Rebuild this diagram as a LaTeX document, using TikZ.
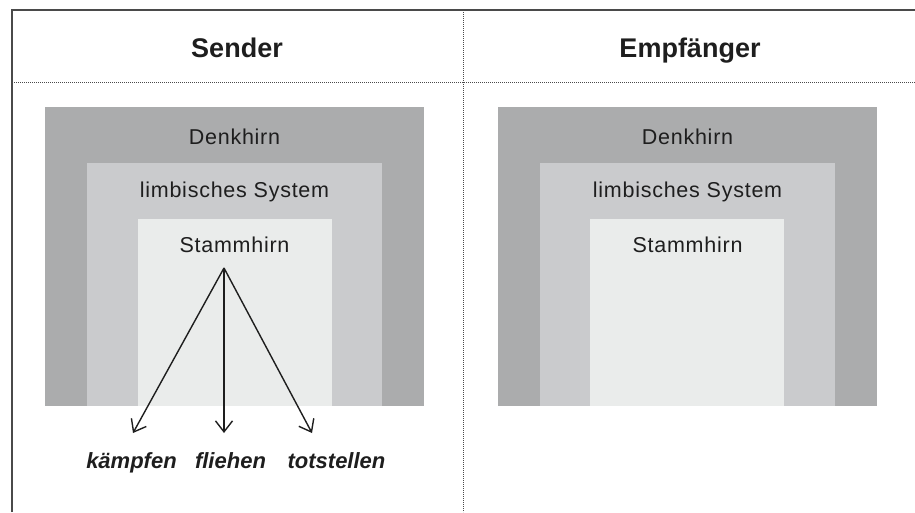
\documentclass[tikz,border=0pt]{standalone}
\usepackage{fontspec}
\setmainfont{Liberation Sans}
\newfontfamily\lblfont[LetterSpace=3.5]{Liberation Sans}
\usetikzlibrary{arrows.meta}
\definecolor{darkg}{HTML}{ABACAD}
\definecolor{midg}{HTML}{CACBCD}
\definecolor{lightg}{HTML}{EAECEB}
\definecolor{framec}{HTML}{4A4A4A}
\definecolor{txt}{HTML}{1E1E1E}
\tikzset{
  frame/.style={draw=framec, line width=1.5pt},
  sep/.style={draw=framec, line width=0.8pt, dash pattern=on 0.8pt off 1.2pt},
  title/.style={anchor=base, font=\fontsize{27}{30}\selectfont\bfseries, text=txt, inner sep=0pt},
  layer/.style={anchor=base, font=\lblfont\fontsize{21.5}{24}\selectfont, text=txt, inner sep=0pt},
  react/.style={anchor=base, font=\fontsize{22}{25}\selectfont\bfseries\itshape, text=txt, inner sep=0pt},
  arr/.style={draw=txt, line width=1.4pt, -{Straight Barb[length=11pt,width=17pt,line width=1.4pt]}}
}
\begin{document}
\begin{tikzpicture}[x=1pt,y=-1pt]
\useasboundingbox (0,0) rectangle (915,512);
% frame
\draw[frame] (12,512) -- (12,10) -- (915,10);
\draw[sep] (12,82) -- (915,82);
\draw[sep] (463,10) -- (463,512);
% titles
\node[title] (sender) at (237,57) {Sender};
\node[title] (empf) at (690,57) {Empfänger};
% left brain
\fill[darkg] (45,107) rectangle (424,406);
\fill[midg] (87,163) rectangle (382,406);
\fill[lightg] (138,219) rectangle (332,406);
\node[layer] (ld) at (234.5,144) {Denkhirn};
\node[layer] (ll) at (234.5,197) {limbisches System};
\node[layer] (ls) at (234.5,252) {Stammhirn};
% right brain
\fill[darkg] (498,107) rectangle (877,406);
\fill[midg] (540,163) rectangle (835,406);
\fill[lightg] (590,219) rectangle (784,406);
\node[layer] (rd) at (687.5,144) {Denkhirn};
\node[layer] (rl) at (687.5,197) {limbisches System};
\node[layer] (rs) at (687.5,252) {Stammhirn};
% reactions
\coordinate (apex) at (224,268);
\coordinate (t1) at (133,433);
\coordinate (t2) at (224,433);
\coordinate (t3) at (312,433);
\draw[arr] (apex) -- (t1);
\draw[arr] (apex) -- (t2);
\draw[arr] (apex) -- (t3);
\node[react] (k) at (131.5,468) {kämpfen};
\node[react] (f) at (230.5,468) {fliehen};
\node[react] (t) at (336.5,468) {totstellen};
\end{tikzpicture}
\end{document}
